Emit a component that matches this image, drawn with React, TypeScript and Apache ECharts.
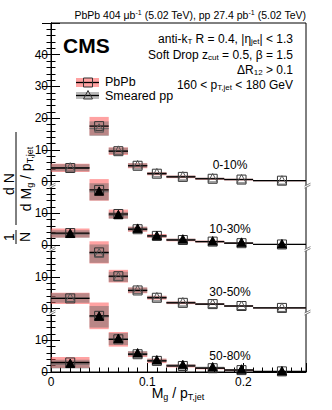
import React, { useEffect, useRef } from 'react';
import * as echarts from 'echarts';

// ---------- data ----------
const binEdges = [0, 0.04, 0.06, 0.08, 0.1, 0.12, 0.15, 0.18, 0.21, 0.27];
const markerX = [0.02, 0.05, 0.07, 0.09, 0.11, 0.137, 0.168, 0.198, 0.24];
const panelLabels = ['0-10%', '10-30%', '30-50%', '50-80%'];
const panelOffsets = [60, 40, 20, 0];
const ppFilled = [false, true, false, true];
const yTickLabels = ['0', '10', '0', '10', '0', '10', '0', '10', '20', '30', '40', ''];

const pbpb0_10 = [4.3, 17.5, 9.6, 5.0, 2.5, 1.5, 0.9, 0.65, 0.3];
const pbpbSys0_10 = [1.3, 2.9, 1.2, 0.8, 0.5, 0.4, 0.3, 0.25, 0.15];
const pp0_10 = [4.4, 16.7, 9.7, 5.1, 2.6, 1.6, 1.0, 0.7, 0.3];
const ppSys0_10 = [1.1, 2.3, 1.0, 0.7, 0.45, 0.35, 0.25, 0.2, 0.12];

const pbpb10_30 = [3.8, 17.4, 9.8, 5.0, 2.9, 1.6, 1.1, 0.6, 0.2];
const pbpbSys10_30 = [1.4, 3.4, 1.4, 0.8, 0.6, 0.4, 0.3, 0.25, 0.15];
const pp10_30 = [3.5, 16.8, 9.4, 5.1, 2.8, 1.7, 1.1, 0.7, 0.2];
const ppSys10_30 = [1.2, 2.7, 1.1, 0.7, 0.45, 0.35, 0.25, 0.2, 0.12];

const pbpb30_50 = [3.2, 17.7, 10.2, 5.7, 3.4, 1.8, 1.4, 0.8, 0.2];
const pbpbSys30_50 = [1.8, 3.5, 2.0, 0.9, 0.6, 0.4, 0.3, 0.25, 0.15];
const pp30_50 = [3.3, 17.3, 10.0, 5.8, 3.5, 1.9, 1.4, 0.8, 0.2];
const ppSys30_50 = [1.5, 2.9, 1.6, 0.8, 0.5, 0.35, 0.25, 0.2, 0.12];

const pbpb50_80 = [3.0, 17.7, 10.3, 5.6, 3.5, 1.9, 1.2, 0.6, 0.2];
const pbpbSys50_80 = [1.7, 4.2, 2.3, 0.9, 0.7, 0.45, 0.35, 0.3, 0.15];
const pp50_80 = [2.5, 17.4, 10.4, 5.8, 3.6, 2.1, 1.4, 0.7, 0.15];
const ppSys50_80 = [1.4, 3.4, 1.9, 0.8, 0.55, 0.4, 0.3, 0.25, 0.12];

const breakValues = [20, 40, 60];

const X_MAX = 0.265;
const Y_MAX = 110;

const pbpbAll = [pbpb0_10, pbpb10_30, pbpb30_50, pbpb50_80];
const pbpbSysAll = [pbpbSys0_10, pbpbSys10_30, pbpbSys30_50, pbpbSys50_80];
const ppAll = [pp0_10, pp10_30, pp30_50, pp50_80];
const ppSysAll = [ppSys0_10, ppSys10_30, ppSys30_50, ppSys50_80];

const FONT = '"Liberation Sans", Arial, Helvetica, sans-serif';
const RED = 'rgba(255,70,70,0.5)';
const GRAY = 'rgba(100,100,100,0.45)';

// ---------- derived series data ----------
const redBands: number[][] = [];
const grayBands: number[][] = [];
const hLines: number[][] = [];
const squares: number[][] = [];
const triangles: number[][] = [];
const labelData: number[][] = [];

panelOffsets.forEach((off, p) => {
  for (let i = 0; i < markerX.length; i++) {
    const v = pbpbAll[p][i];
    const s = pbpbSysAll[p][i];
    const w = ppAll[p][i];
    const ws = ppSysAll[p][i];
    redBands.push([binEdges[i], binEdges[i + 1], off + v - s, off + v + s]);
    grayBands.push([binEdges[i], binEdges[i + 1], off + w - ws, off + w + ws]);
    hLines.push([binEdges[i], binEdges[i + 1], off + w, 1]);
    hLines.push([binEdges[i], binEdges[i + 1], off + v, 0]);
    squares.push([markerX[i], off + v]);
    triangles.push([markerX[i], off + w, ppFilled[p] ? 1 : 0]);
  }
  labelData.push([0.186, off + 5.2, p]);
});

function bandRender(color: string) {
  return (params: any, api: any) => {
    const p0 = api.coord([api.value(0), api.value(3)]);
    const p1 = api.coord([api.value(1), api.value(2)]);
    const cs = params.coordSys;
    const rect = echarts.graphic.clipRectByRect(
      { x: p0[0], y: p0[1], width: p1[0] - p0[0], height: p1[1] - p0[1] },
      { x: cs.x, y: cs.y, width: cs.width, height: cs.height }
    );
    if (!rect) return null;
    return { type: 'rect', shape: rect, style: { fill: color } };
  };
}

const sub = { fontSize: 8, fontFamily: FONT, fill: '#000', padding: [5, 0, 0, 0] };

const option: any = {
  animation: false,
  grid: { left: 51, right: 26, top: 23, bottom: 38, show: true, borderColor: '#000', borderWidth: 1, backgroundColor: 'transparent' },
  xAxis: [
    {
      type: 'value', min: 0, max: X_MAX, interval: 0.1, position: 'bottom',
      axisLine: { show: true, lineStyle: { color: '#000', width: 1 } },
      axisTick: { show: true, inside: true, length: 9, lineStyle: { color: '#000' } },
      axisLabel: {
        show: true, margin: 4, fontSize: 12, color: '#000', fontFamily: FONT,
        formatter: (v: number) => {
          const r = Math.round(v * 10);
          if (Math.abs(v * 10 - r) > 1e-6) return '';
          return r === 0 ? '0' : String(r / 10);
        },
      },
      splitLine: { show: false },
    },
    {
      type: 'value', min: 0, max: X_MAX, interval: 0.01, position: 'bottom',
      axisLine: { show: false },
      axisTick: { show: true, inside: true, length: 4.5, lineStyle: { color: '#000' } },
      axisLabel: { show: false },
      splitLine: { show: false },
    },
  ],
  yAxis: [
    {
      type: 'value', min: 0, max: Y_MAX, interval: 10, position: 'left',
      axisLine: { show: true, lineStyle: { color: '#000', width: 1 } },
      axisTick: { show: true, inside: true, length: 9, lineStyle: { color: '#000' } },
      minorTick: { show: true, splitNumber: 5, length: 4.5, lineStyle: { color: '#000' } },
      axisLabel: {
        show: true, margin: 3, fontSize: 12, color: '#000', fontFamily: FONT,
        formatter: (v: number) => yTickLabels[Math.round(v / 10)] ?? '',
      },
      splitLine: { show: false },
      minorSplitLine: { show: false },
    },
    {
      type: 'value', min: 0, max: Y_MAX, interval: 10, position: 'right',
      axisLine: { show: true, lineStyle: { color: '#000', width: 1 } },
      axisTick: { show: true, inside: true, length: 9, lineStyle: { color: '#000' } },
      minorTick: { show: true, splitNumber: 5, length: 4.5, lineStyle: { color: '#000' } },
      axisLabel: { show: false },
      splitLine: { show: false },
      minorSplitLine: { show: false },
    },
  ],
  series: [
    { type: 'custom', xAxisIndex: 0, yAxisIndex: 0, data: redBands, renderItem: bandRender(RED), silent: true },
    { type: 'custom', xAxisIndex: 0, yAxisIndex: 0, data: grayBands, renderItem: bandRender(GRAY), silent: true },
    {
      type: 'custom', xAxisIndex: 0, yAxisIndex: 0, data: hLines, silent: true,
      renderItem: (params: any, api: any) => {
        const cs = params.coordSys;
        const a = api.coord([api.value(0), api.value(2)]);
        const b = api.coord([api.value(1), api.value(2)]);
        const x2 = Math.min(b[0], cs.x + cs.width);
        const pp = api.value(3) === 1;
        return {
          type: 'line',
          shape: { x1: a[0], y1: a[1], x2, y2: b[1] },
          style: { stroke: pp ? '#666' : '#000', lineWidth: pp ? 1 : 1.3 },
        };
      },
    },
    {
      type: 'custom', xAxisIndex: 0, yAxisIndex: 0, data: squares, silent: true,
      renderItem: (params: any, api: any) => {
        const c = api.coord([api.value(0), api.value(1)]);
        return {
          type: 'rect',
          shape: { x: c[0] - 4.5, y: c[1] - 4.5, width: 9, height: 9 },
          style: { fill: 'none', stroke: '#333', lineWidth: 1 },
        };
      },
    },
    {
      type: 'custom', xAxisIndex: 0, yAxisIndex: 0, data: triangles, silent: true,
      renderItem: (params: any, api: any) => {
        const c = api.coord([api.value(0), api.value(1)]);
        const filled = api.value(2) === 1;
        return {
          type: 'polygon',
          shape: { points: [[c[0], c[1] - 5], [c[0] - 4.5, c[1] + 3.5], [c[0] + 4.5, c[1] + 3.5]] },
          style: filled ? { fill: '#000', stroke: '#000', lineWidth: 1 } : { fill: 'none', stroke: '#555', lineWidth: 1 },
        };
      },
    },
    {
      type: 'custom', xAxisIndex: 0, yAxisIndex: 0, data: breakValues.map((v) => [0, v]), silent: true,
      renderItem: (params: any, api: any) => {
        const cs = params.coordSys;
        const y = api.coord([0, api.value(1)])[1] + 4;
        const mk = (x: number) => [
          { type: 'polygon', shape: { points: [[x - 3, y + 0.5], [x + 3, y - 2.5], [x + 3, y - 0.5], [x - 3, y + 2.5]] }, style: { fill: '#fff', stroke: 'none' } },
          { type: 'line', shape: { x1: x - 3, y1: y + 0.5, x2: x + 3, y2: y - 2.5 }, style: { stroke: '#666', lineWidth: 0.8 } },
          { type: 'line', shape: { x1: x - 3, y1: y + 2.5, x2: x + 3, y2: y - 0.5 }, style: { stroke: '#666', lineWidth: 0.8 } },
        ];
        return { type: 'group', children: [...mk(cs.x + 1.5), ...mk(cs.x + cs.width + 1.5)] };
      },
    },
    {
      type: 'custom', xAxisIndex: 0, yAxisIndex: 0, data: labelData, silent: true,
      renderItem: (params: any, api: any) => {
        const c = api.coord([api.value(0), api.value(1)]);
        return {
          type: 'text',
          x: c[0], y: c[1],
          style: { text: panelLabels[api.value(2)], fontSize: 12, fontFamily: FONT, fill: '#000', align: 'center', verticalAlign: 'middle' },
        };
      },
    },
  ],
  graphic: [
    {
      type: 'text', x: 306, y: 15,
      style: {
        text: 'PbPb 404 μb{sup|-1} (5.02 TeV), pp 27.4 pb{sup|-1} (5.02 TeV)',
        fontSize: 10.5, fontFamily: FONT, fill: '#000', align: 'right', verticalAlign: 'middle',
        rich: { sup: { fontSize: 7, fontFamily: FONT, fill: '#000', padding: [0, 0, 6, 0] } },
      },
    },
    {
      type: 'text', x: 63, y: 45,
      style: { text: 'CMS', fontSize: 21, fontWeight: 'bold', fontFamily: FONT, fill: '#000', align: 'left', verticalAlign: 'middle' },
    },
    {
      type: 'text', x: 293, y: 39,
      style: { text: 'anti-k{sub|T} R = 0.4, |η{sub|jet}| < 1.3', fontSize: 12, fontFamily: FONT, fill: '#000', align: 'right', verticalAlign: 'middle', rich: { sub } },
    },
    {
      type: 'text', x: 293, y: 55,
      style: { text: 'Soft Drop z{sub|cut} = 0.5, β = 1.5', fontSize: 12, fontFamily: FONT, fill: '#000', align: 'right', verticalAlign: 'middle', rich: { sub } },
    },
    {
      type: 'text', x: 293, y: 70,
      style: { text: 'ΔR{sub|12} > 0.1', fontSize: 12, fontFamily: FONT, fill: '#000', align: 'right', verticalAlign: 'middle', rich: { sub } },
    },
    {
      type: 'text', x: 293, y: 85,
      style: { text: '160 < p{sub|T,jet} < 180 GeV', fontSize: 12, fontFamily: FONT, fill: '#000', align: 'right', verticalAlign: 'middle', rich: { sub } },
    },
    // legend
    { type: 'rect', shape: { x: 76, y: 78, width: 23, height: 9 }, style: { fill: RED } },
    { type: 'line', shape: { x1: 76, y1: 82.5, x2: 99, y2: 82.5 }, style: { stroke: '#000', lineWidth: 1.3 } },
    { type: 'rect', shape: { x: 83.5, y: 78, width: 9, height: 9 }, style: { fill: 'none', stroke: '#333', lineWidth: 1 } },
    { type: 'text', x: 105, y: 82, style: { text: 'PbPb', fontSize: 12.5, fontFamily: FONT, fill: '#000', verticalAlign: 'middle' } },
    { type: 'rect', shape: { x: 76, y: 92, width: 23, height: 7 }, style: { fill: GRAY } },
    { type: 'line', shape: { x1: 76, y1: 95.5, x2: 99, y2: 95.5 }, style: { stroke: '#000', lineWidth: 1.3 } },
    { type: 'polygon', shape: { points: [[88, 90.5], [83.5, 99], [92.5, 99]] }, style: { fill: 'none', stroke: '#333', lineWidth: 1 } },
    { type: 'text', x: 105, y: 96, style: { text: 'Smeared pp', fontSize: 12.5, fontFamily: FONT, fill: '#000', verticalAlign: 'middle' } },
    // x-axis title
    {
      type: 'text', x: 178, y: 393,
      style: { text: 'M{sub|g} / p{sub|T,jet}', fontSize: 14, fontFamily: FONT, fill: '#000', align: 'center', verticalAlign: 'middle', rich: { sub: { ...sub, fontSize: 9, padding: [7, 0, 0, 0] } } },
    },
    // y-axis title (rotated)
    {
      type: 'group', x: 16, y: 244, rotation: Math.PI / 2,
      children: [
        { type: 'text', style: { text: '1', x: 7, y: -7, fontSize: 14, fontFamily: FONT, fill: '#000', align: 'center', verticalAlign: 'middle' } },
        { type: 'line', shape: { x1: 0, y1: 0, x2: 14, y2: 0 }, style: { stroke: '#000', lineWidth: 1 } },
        { type: 'text', style: { text: 'N', x: 7, y: 9, fontSize: 14, fontFamily: FONT, fill: '#000', align: 'center', verticalAlign: 'middle' } },
        { type: 'text', style: { text: 'd N', x: 60, y: -7, fontSize: 14, fontFamily: FONT, fill: '#000', align: 'center', verticalAlign: 'middle' } },
        { type: 'line', shape: { x1: 19, y1: 0, x2: 112, y2: 0 }, style: { stroke: '#000', lineWidth: 1 } },
        {
          type: 'text',
          style: { text: 'd M{sub|g} / p{sub|T,jet}', x: 65, y: 10, fontSize: 14, fontFamily: FONT, fill: '#000', align: 'center', verticalAlign: 'middle', rich: { sub: { ...sub, fontSize: 9, padding: [7, 0, 0, 0] } } },
        },
      ],
    },
  ],
};

export default function App() {
  const ref = useRef<HTMLDivElement>(null);
  useEffect(() => {
    const chart = echarts.init(ref.current!, null, { renderer: 'svg' });
    chart.setOption(option);
    return () => chart.dispose();
  }, []);
  return <div ref={ref} style={{ position: 'fixed', left: 0, top: 0, width: 332, height: 410, background: '#fff' }} />;
}
